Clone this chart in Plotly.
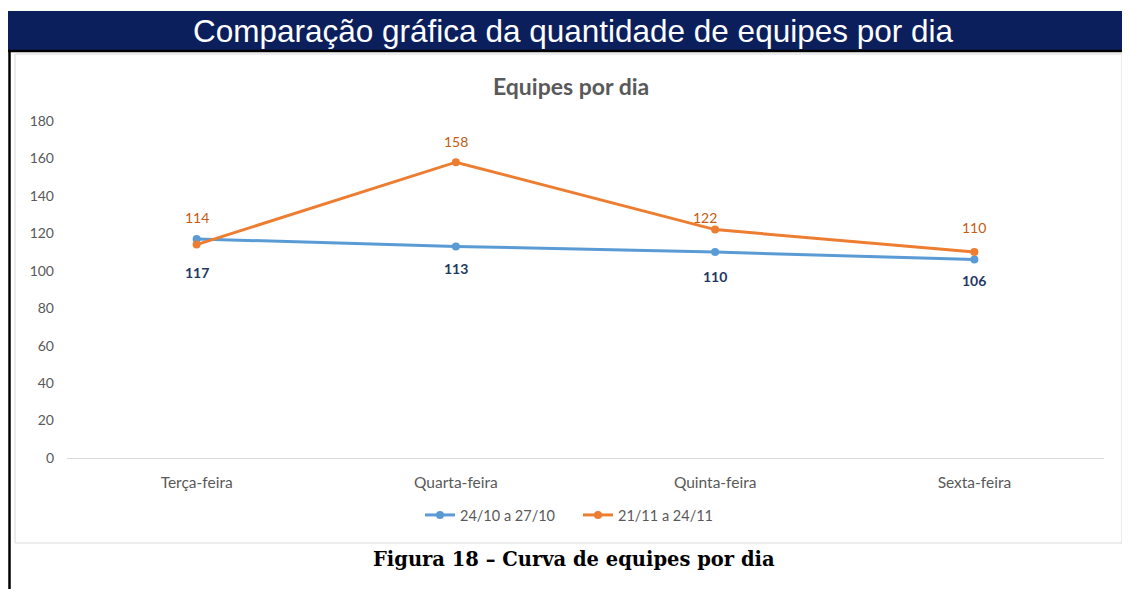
import plotly.graph_objects as go

# ---- data ----
categories = ["Terça-feira", "Quarta-feira", "Quinta-feira", "Sexta-feira"]
series_a_name = "24/10 a 27/10"
series_a = [117, 113, 110, 106]
series_b_name = "21/11 a 24/11"
series_b = [114, 158, 122, 110]
y_ticks = [0, 20, 40, 60, 80, 100, 120, 140, 160, 180]

header_text = "Comparação gráfica da quantidade de equipes por dia"
chart_title = "Equipes por dia"
caption_text = "Figura 18 – Curva de equipes por dia"

# ---- geometry (pixels in the 1130x589 screenshot) ----
OFF = 8               # page body margin added by the browser
W, H = 1130, 589
PL, PR = 67, 1104     # plot area left/right
PT, PB = 121, 458     # plot area top/bottom


def px(x):
    return (x - PL) / (PR - PL)


def py(y):
    return (PB - y) / (PB - PT)


BLUE = "#5b9bd5"
ORANGE = "#ed7d31"
GRAY = "#595959"
NAVY = "#0b1f5c"
FONT = "Lato"

fig = go.Figure()
fig.add_trace(go.Scatter(
    x=categories, y=series_a, name=series_a_name, mode="lines+markers",
    line=dict(color=BLUE, width=3), marker=dict(size=8, color=BLUE),
    cliponaxis=False,
))
fig.add_trace(go.Scatter(
    x=categories, y=series_b, name=series_b_name, mode="lines+markers",
    line=dict(color=ORANGE, width=3), marker=dict(size=8, color=ORANGE),
    cliponaxis=False,
))

annotations = []
a_shift = [-34, -22, -24, -21]
b_shift = [27, 21, 12, 25]
b_xshift = [0, 0, -10, 0]
for i, c in enumerate(categories):
    annotations.append(dict(x=c, y=series_a[i], xref="x", yref="y", text=str(series_a[i]),
                            showarrow=False, yshift=a_shift[i],
                            font=dict(family=FONT, size=14, color="#1f3864", weight="bold")))
    annotations.append(dict(x=c, y=series_b[i], xref="x", yref="y", text=str(series_b[i]),
                            showarrow=False, yshift=b_shift[i], xshift=b_xshift[i],
                            font=dict(family=FONT, size=14, color="#c55a11")))

annotations.append(dict(x=px(573), y=py(31), xref="paper", yref="paper", text=header_text,
                        showarrow=False, xanchor="center", yanchor="middle",
                        font=dict(family="Liberation Sans", size=31.5, color="white")))
annotations.append(dict(x=px(571), y=py(86), xref="paper", yref="paper", text=chart_title,
                        showarrow=False, xanchor="center", yanchor="middle",
                        font=dict(family=FONT, size=23, color=GRAY, weight="bold")))
annotations.append(dict(x=px(574), y=py(559), xref="paper", yref="paper", text=caption_text,
                        showarrow=False, xanchor="center", yanchor="middle",
                        font=dict(family="DejaVu Serif", size=19.5, color="black", weight="bold")))

shapes = [
    # chart box
    dict(type="rect", xref="paper", yref="paper", x0=px(15), x1=px(1122), y0=py(54), y1=py(543),
         line=dict(color="#d9d9d9", width=1), fillcolor="white", layer="below"),
    # header bar
    dict(type="rect", xref="paper", yref="paper", x0=px(0), x1=px(1130), y0=py(11), y1=py(50),
         line=dict(width=0), fillcolor=NAVY, layer="below"),
    # black line under header
    dict(type="line", xref="paper", yref="paper", x0=px(0), x1=px(1130), y0=py(51), y1=py(51),
         line=dict(color="black", width=2.5)),
    # left black vertical line
    dict(type="line", xref="paper", yref="paper", x0=px(9.5), x1=px(9.5), y0=py(50), y1=py(600),
         line=dict(color="black", width=2.5)),
]

fig.update_layout(
    width=W - OFF, height=H - OFF,
    margin=dict(l=PL - OFF, r=W - PR, t=PT - OFF, b=H - PB, pad=0),
    paper_bgcolor="white", plot_bgcolor="rgba(0,0,0,0)",
    showlegend=True,
    legend=dict(orientation="h", x=px(420), xanchor="left", y=py(515), yanchor="middle",
                entrywidth=113, entrywidthmode="pixels",
                font=dict(family=FONT, size=14.5, color=GRAY), bgcolor="rgba(0,0,0,0)"),
    annotations=annotations,
    shapes=shapes,
    xaxis=dict(type="category", range=[-0.5, 3.5], showgrid=False, zeroline=False,
               showline=True, linecolor="#d9d9d9", linewidth=1, ticks="",
               tickfont=dict(family=FONT, size=15.5, color=GRAY), ticklabelstandoff=10,
               fixedrange=True),
    yaxis=dict(range=[0, 180], tickvals=y_ticks, showgrid=False, zeroline=False,
               showline=False, ticks="",
               tickfont=dict(family=FONT, size=14, color=GRAY), ticklabelstandoff=12,
               fixedrange=True),
)

fig.write_html("out.html")
